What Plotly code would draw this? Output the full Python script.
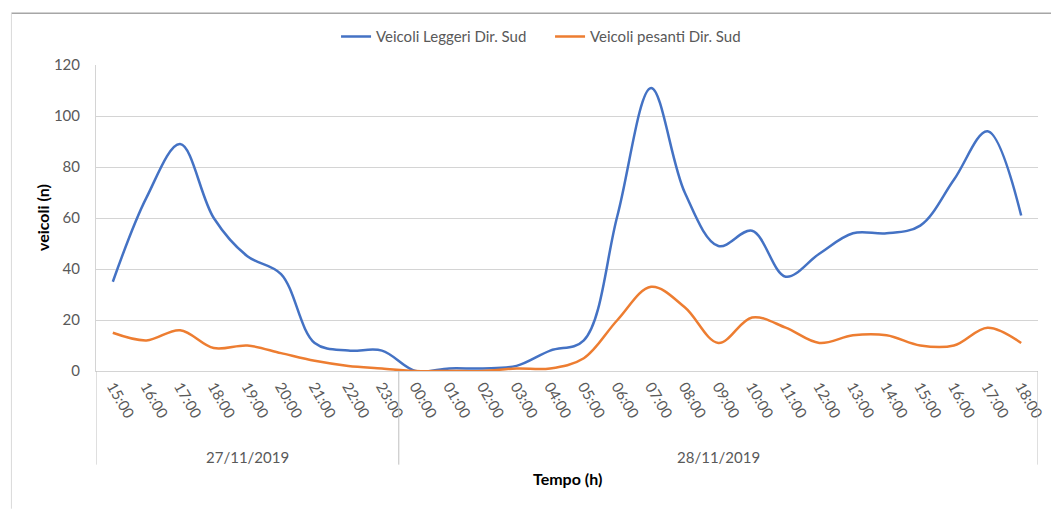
import plotly.graph_objects as go

# ---- data ----
dates = ["27/11/2019", "28/11/2019"]
times_day1 = ["15:00", "16:00", "17:00", "18:00", "19:00", "20:00", "21:00", "22:00", "23:00"]
times_day2 = ["00:00", "01:00", "02:00", "03:00", "04:00", "05:00", "06:00", "07:00", "08:00",
              "09:00", "10:00", "11:00", "12:00", "13:00", "14:00", "15:00", "16:00", "17:00", "18:00"]
leggeri = [35, 68, 89, 60, 45, 38, 11, 8, 8,
           0, 1, 1, 2, 8, 12, 61, 111, 70, 49, 55, 37, 46, 54, 54, 57, 75, 94, 61]
pesanti = [15, 12, 16, 9, 10, 7, 4, 2, 1,
           0, 0, 0, 1, 1, 5, 20, 33, 25, 11, 21, 17, 11, 14, 14, 10, 10, 17, 11]

times = times_day1 + times_day2
xs = list(range(len(times)))

FONT = "Lato, 'Open Sans', sans-serif"
GRID = "#d4d4d4"
TXT = "#595959"

fig = go.Figure()
fig.add_trace(go.Scatter(x=xs, y=leggeri, mode="lines", name="Veicoli Leggeri Dir. Sud",
                         line=dict(color="#4472c4", width=2.5, shape="spline", smoothing=1.0)))
fig.add_trace(go.Scatter(x=xs, y=pesanti, mode="lines", name="Veicoli pesanti Dir. Sud",
                         line=dict(color="#ed7d31", width=2.5, shape="spline", smoothing=1.0)))

n = len(times)
n1 = len(times_day1)

shapes = []
# group dividers below the category axis
for xv in [-0.5, n1 - 0.5, n - 0.5]:
    shapes.append(dict(type="line", xref="x", yref="paper", x0=xv, x1=xv, y0=0, y1=-0.306,
                       line=dict(color="#bfbfbf", width=1)))
# outer frame lines
shapes.append(dict(type="line", xref="paper", yref="paper", x0=-0.0898, x1=1.1, y0=1.1688, y1=1.1688,
                   line=dict(color="#a6a6a6", width=1.5)))
shapes.append(dict(type="line", xref="paper", yref="paper", x0=-0.0898, x1=-0.0898, y0=1.1688, y1=-0.45,
                   line=dict(color="#d9d9d9", width=1)))

annotations = [
    dict(x=(n1 - 1) / 2, y=-0.28, xref="x", yref="paper", text=dates[0], showarrow=False,
         xanchor="center", yanchor="middle", font=dict(family=FONT, size=15, color=TXT)),
    dict(x=n1 + (len(times_day2) - 1) / 2, y=-0.28, xref="x", yref="paper", text=dates[1], showarrow=False,
         xanchor="center", yanchor="middle", font=dict(family=FONT, size=15, color=TXT)),
    dict(x=0.5, y=-0.35, xref="paper", yref="paper", text="<b>Tempo (h)</b>", showarrow=False,
         xanchor="center", yanchor="middle", font=dict(family=FONT, size=16, color="#000000")),
    dict(x=0, y=0.5, xref="paper", yref="paper", xshift=-54, text="<b>veicoli (n)</b>", textangle=-90,
         xanchor="center", yanchor="middle",
         showarrow=False, font=dict(family=FONT, size=16, color="#000000")),
]

# page body has an 8px margin; size the figure so the drawing lands at the reference's pixels
fig.update_layout(
    width=1051, height=501,
    margin=dict(l=88, r=16, t=49, b=138),
    paper_bgcolor="white", plot_bgcolor="white",
    font=dict(family=FONT, size=15, color=TXT),
    showlegend=True,
    legend=dict(orientation="h", x=0.482, xanchor="center", y=1.092, yanchor="middle",
                font=dict(family=FONT, size=15, color=TXT), itemwidth=30, entrywidth=169,
                bgcolor="rgba(0,0,0,0)"),
    shapes=shapes,
    annotations=annotations,
)
fig.update_xaxes(range=[-0.5, n - 0.5], tickmode="array", tickvals=xs, ticktext=times,
                 tickangle=60, showgrid=False, zeroline=False, showline=True,
                 linecolor=GRID, linewidth=1, ticks="", fixedrange=True,
                 tickfont=dict(family=FONT, size=15, color=TXT))
fig.update_yaxes(range=[0, 120], dtick=20, showgrid=True, gridcolor=GRID, gridwidth=1,
                 zeroline=False, showline=True, linecolor=GRID, linewidth=1, ticks="",
                 ticklabelstandoff=12, tickfont=dict(family=FONT, size=15, color=TXT))

fig.write_html("out.html")
